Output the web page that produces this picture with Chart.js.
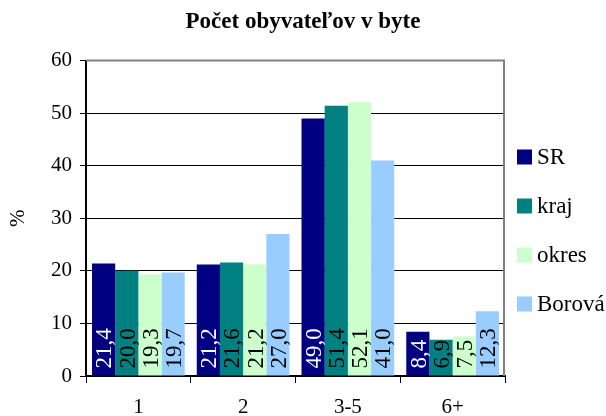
<!DOCTYPE html>
<html>
<head>
<meta charset="utf-8">
<script src="https://cdn.jsdelivr.net/npm/chart.js@4"></script>
<style>
  html, body { margin: 0; padding: 0; background: #fff; }
  #wrap { width: 606px; height: 416px; }
</style>
</head>
<body>
<div id="wrap"><canvas id="chart"></canvas></div>
<script>
const categories = ['1', '2', '3-5', '6+'];
const seriesNames = ['SR', 'kraj', 'okres', 'Borová'];
const srValues = [21.4, 21.2, 49.0, 8.4];
const krajValues = [20.0, 21.6, 51.4, 6.9];
const okresValues = [19.3, 21.2, 52.1, 7.5];
const borovaValues = [19.7, 27.0, 41.0, 12.3];
const yMin = 0;
const yMax = 60;
const yStep = 10;

const colors = ['#000080', '#008080', '#CCFFCC', '#99CCFF'];
const labelColors = ['#ffffff', '#000000', '#000000', '#000000'];
const serif = 'Liberation Serif';

// values written upright inside each bar, from the bottom
const barLabels = {
  id: 'barLabels',
  afterDatasetsDraw(chart) {
    const ctx = chart.ctx;
    const size = 23;
    ctx.save();
    ctx.font = size + 'px "' + serif + '"';
    ctx.textAlign = 'left';
    ctx.textBaseline = 'alphabetic';
    chart.data.datasets.forEach((ds, i) => {
      const meta = chart.getDatasetMeta(i);
      ctx.fillStyle = labelColors[i];
      meta.data.forEach((bar, j) => {
        const text = ds.data[j].toFixed(1).replace('.', ',');
        ctx.save();
        ctx.translate(bar.x, bar.base - 7);
        ctx.rotate(-Math.PI / 2);
        ctx.fillText(text, 0, size * 0.34);
        ctx.restore();
      });
    });
    ctx.restore();
  }
};

// grey plot-area frame on top and right
const frame = {
  id: 'frame',
  afterDatasetsDraw(chart) {
    const { ctx, chartArea: a } = chart;
    ctx.save();
    ctx.strokeStyle = '#808080';
    ctx.lineWidth = 2;
    ctx.beginPath();
    ctx.moveTo(a.left, a.top);
    ctx.lineTo(a.right - 1, a.top);
    ctx.lineTo(a.right - 1, a.bottom);
    ctx.stroke();
    ctx.restore();
  }
};

// legend on the right side
const sideLegend = {
  id: 'sideLegend',
  afterDraw(chart) {
    const { ctx, chartArea: a } = chart;
    const x = a.right + 12;
    ctx.save();
    ctx.font = '23px "' + serif + '"';
    ctx.textAlign = 'left';
    ctx.textBaseline = 'middle';
    chart.data.datasets.forEach((ds, i) => {
      const y = 157 + i * 49;
      ctx.fillStyle = ds.backgroundColor;
      ctx.fillRect(x, y - 7.5, 15, 15);
      ctx.fillStyle = '#000';
      ctx.fillText(ds.label, x + 20, y + 1);
    });
    ctx.restore();
  }
};

const datasets = [srValues, krajValues, okresValues, borovaValues].map((values, i) => ({
  label: seriesNames[i],
  data: values,
  backgroundColor: colors[i],
  borderWidth: 0,
  categoryPercentage: 0.885,
  barPercentage: 1,
}));

new Chart(document.getElementById('chart'), {
  type: 'bar',
  data: { labels: categories, datasets: datasets },
  plugins: [barLabels, frame, sideLegend],
  options: {
    responsive: true,
    maintainAspectRatio: false,
    animation: false,
    layout: { padding: 0 },
    plugins: {
      legend: { display: false },
      tooltip: { enabled: false },
      title: {
        display: true,
        text: 'Počet obyvateľov v byte',
        color: '#000',
        font: { family: serif, size: 23, weight: 'bold' },
        padding: { top: 8, bottom: 25 },
      },
    },
    scales: {
      x: {
        grid: {
          offset: true,
          drawOnChartArea: false,
          drawTicks: true,
          tickLength: 7,
          color: '#000',
        },
        border: { color: '#000', width: 2 },
        ticks: {
          color: '#000',
          padding: 12,
          font: { family: serif, size: 21 },
        },
        afterFit(scale) { scale.height = 40; },
      },
      y: {
        min: yMin,
        max: yMax,
        grid: { color: '#000', tickLength: 6, lineWidth: 1 },
        border: { color: '#000', width: 2 },
        ticks: {
          stepSize: yStep,
          color: '#000',
          padding: 8,
          font: { family: serif, size: 21 },
        },
        title: {
          display: true,
          text: '%',
          color: '#000',
          font: { family: serif, size: 21 },
          padding: { top: 6, bottom: 0 },
        },
        afterFit(scale) { scale.width = 86; },
      },
      spare: {
        type: 'linear',
        position: 'right',
        display: true,
        grid: { display: false },
        border: { display: false },
        ticks: { display: false },
        afterFit(scale) { scale.width = 101; },
      },
    },
  },
});
</script>
</body>
</html>
